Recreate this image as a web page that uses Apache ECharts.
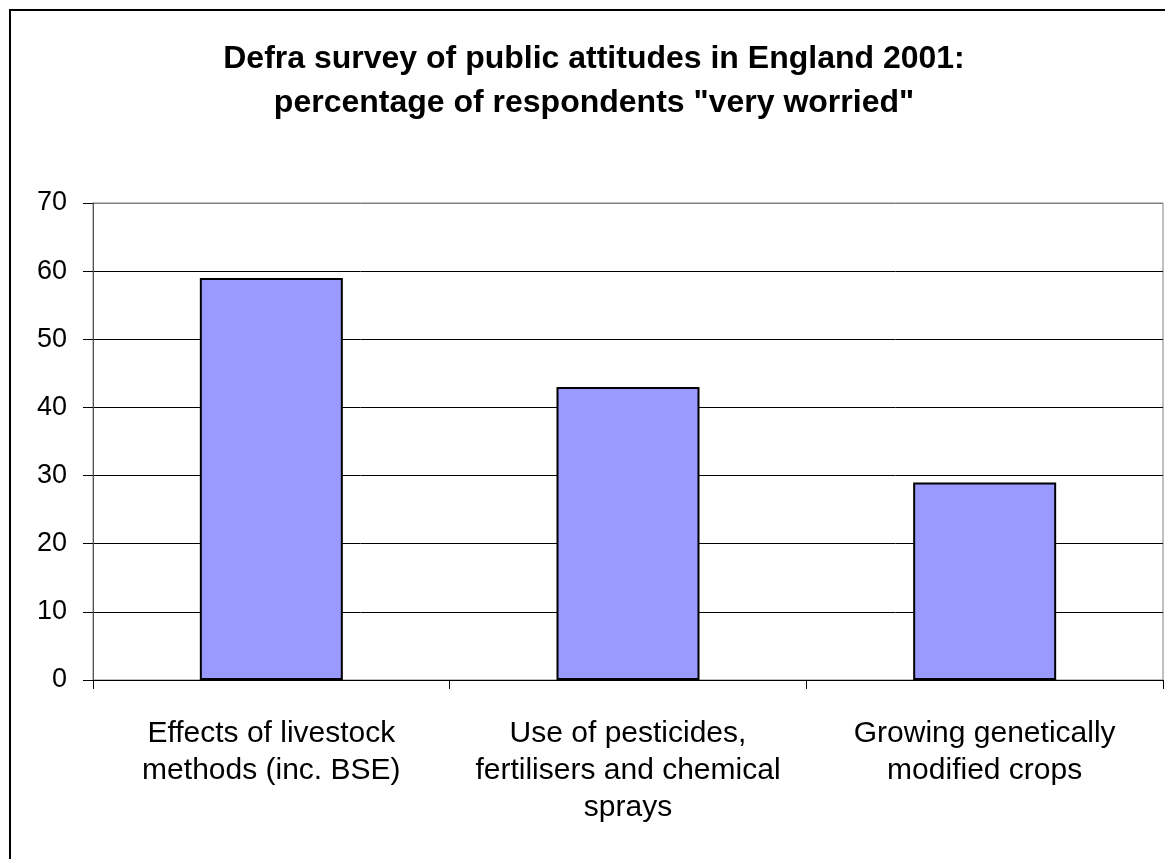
<!DOCTYPE html>
<html>
<head>
<meta charset="utf-8">
<script src="https://cdn.jsdelivr.net/npm/echarts@6/dist/echarts.min.js"></script>
<style>
html,body{margin:0;padding:0;background:#fff;}
#chart{width:1165px;height:859px;}
</style>
</head>
<body>
<div id="chart"></div>
<script>
const titleText = 'Defra survey of public attitudes in England 2001:\npercentage of respondents "very worried"';
const categories = [
  'Effects of livestock\nmethods (inc. BSE)',
  'Use of pesticides,\nfertilisers and chemical\nsprays',
  'Growing genetically\nmodified crops'
];
const veryWorried = [59, 43, 29];
const yTicks = [0, 10, 20, 30, 40, 50, 60, 70];

const chart = echarts.init(document.getElementById('chart'), null, {renderer: 'canvas'});
const font = '"Liberation Sans", Arial, sans-serif';
chart.setOption({
  animation: false,
  backgroundColor: '#fff',
  title: {
    text: titleText,
    left: 589,
    textAlign: 'center',
    top: 32,
    textStyle: {
      fontFamily: font,
      fontSize: 32,
      fontWeight: 'bold',
      color: '#000',
      lineHeight: 44
    }
  },
  graphic: [{
    type: 'rect',
    shape: {x: 10, y: 10, width: 1200, height: 900},
    style: {fill: 'none', stroke: '#000', lineWidth: 2},
    silent: true,
    z: 100
  }],
  grid: {
    left: 93, right: 2, top: 203, bottom: 179,
    show: true, borderColor: '#808080', borderWidth: 1, backgroundColor: '#fff'
  },
  xAxis: {
    type: 'category',
    data: categories,
    axisLine: {show: true, lineStyle: {color: '#000', width: 1}},
    axisTick: {show: true, length: 9, lineStyle: {color: '#000'}},
    axisLabel: {
      interval: 0,
      margin: 35,
      fontFamily: font,
      fontSize: 30,
      lineHeight: 37,
      color: '#000',
      align: 'center',
      verticalAlign: 'top'
    },
    splitLine: {show: false}
  },
  yAxis: {
    type: 'value',
    min: yTicks[0],
    max: yTicks[yTicks.length - 1],
    interval: 10,
    axisLine: {show: true, lineStyle: {color: '#555', width: 1}},
    axisTick: {show: true, inside: false, length: 10, lineStyle: {color: '#000'}},
    axisLabel: {
      margin: 26,
      fontFamily: font,
      fontSize: 27,
      color: '#000'
    },
    splitLine: {show: true, lineStyle: {color: ['#000','#000','#000','#000','#000','#000','#000','#808080'], width: 1}}
  },
  series: [{
    type: 'bar',
    data: veryWorried,
    barWidth: 143,
    itemStyle: {color: '#9999FF', borderColor: '#000', borderWidth: 2}
  }]
});
</script>
</body>
</html>
